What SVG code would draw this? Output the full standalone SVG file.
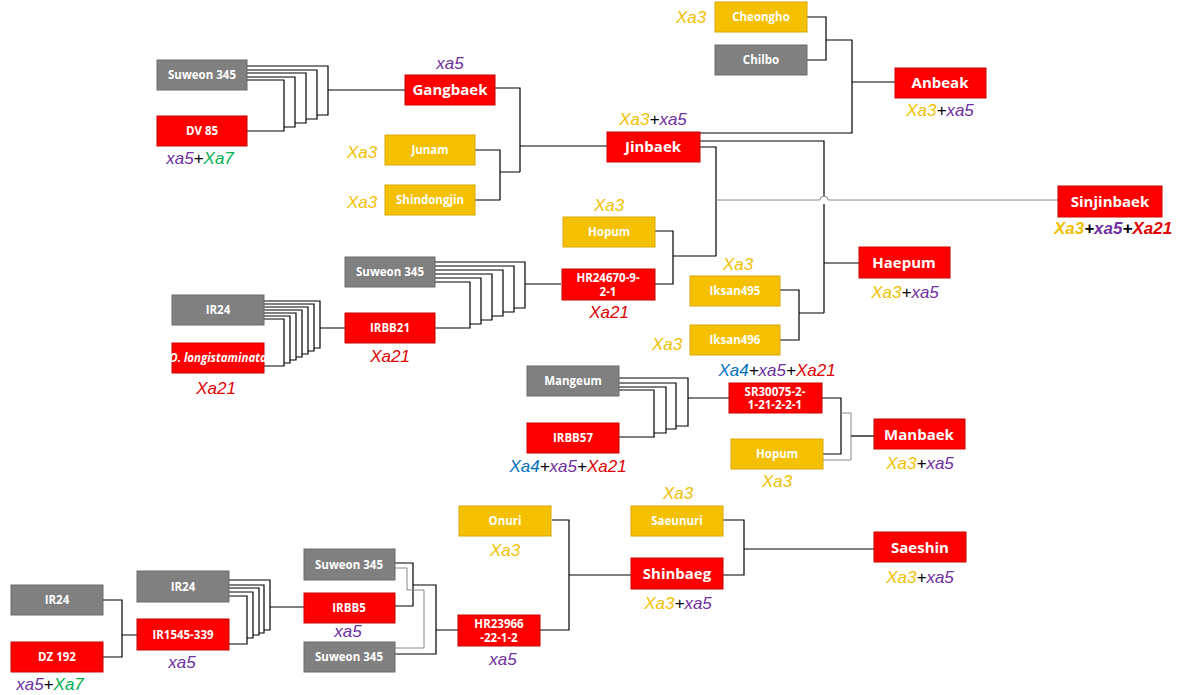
<svg xmlns="http://www.w3.org/2000/svg" width="1191" height="695" viewBox="0 0 1191 695">
<style>
.r{fill:#ff0000;stroke:#d00000;stroke-width:1}
.y{fill:#f5c000;stroke:#d9a800;stroke-width:1}
.g{fill:#808080;stroke:#6a6a6a;stroke-width:1}
.t{fill:#fff;font-family:"Open Sans","Liberation Sans",sans-serif;font-weight:bold;font-size:11.5px;text-anchor:middle}
.b{font-size:15px}
.l{font-family:"Liberation Sans",sans-serif;font-style:italic;font-size:17px;text-anchor:middle}
.c3{fill:#f0c000}.c5{fill:#7030a0}.c7{fill:#00b050}.c21{fill:#e00000}.c4{fill:#0070c0}.k{fill:#000}
.w{fill:none;stroke:#000;stroke-width:1.2}
.v{fill:none;stroke:#888;stroke-width:1}
</style>
<rect width="1191" height="695" fill="#fff"/>
<g id="connectors">
<path class="w" d="M247,66H328V115H317M247,70H317V119H306M247,73H306V123H295M247,77H295V127H284M247,80H284V131H247M328,90H405"/>
<path class="w" d="M495,88H520V172M475,150H500V200H475M500,172H520M520,146H607"/>
<path class="w" d="M807,17H826V60H807M826,40H852V133H700M852,82H895"/>
<path class="w" d="M700,141H824V196M824,204V313M824,263H859M780,290H799V340H780M799,313H824"/>
<path class="w" d="M700,147H716V256H673M655,231H673V284H655"/>
<path class="v" d="M716,200H820A4,4 0 0 1 828,200H1058"/>
<path class="w" d="M435,262H525V308H514M435,266H514V312H503M435,270H503V316H492M435,274H492V320H481M435,278H481V324H470M435,282H470V328H435M525,284H561"/>
<path class="w" d="M264,301H320V348H314M264,304H314V351H308M264,307H308V354H302M264,310H302V357H296M264,313H296V360H290M264,316H290V363H284M264,319H284V366H264M320,328H345"/>
<path class="w" d="M619,378H688V426H676M619,383H676V429H666M619,387H666V433H654M619,390H654V437H619M688,398H729"/>
<path class="w" d="M822,398H841V454H823"/>
<path class="v" d="M823,460H851V413H841M851,436H874"/>
<path class="w" d="M851,436H874M552,520H569V630H540M569,575H631M723,520H744V575H723M744,549H874"/>
<path class="w" d="M103,600H122V657H103M122,635H137"/>
<path class="w" d="M229,580H270V630H264M229,585H264V633H259M229,588H259V635H253M229,592H253V638H247M229,596H247V644H229M270,607H304"/>
<path class="w" d="M395,563H413V606H395M413,585H436V654H395M436,630H458"/>
<path class="v" d="M395,568H407V590H424V648H395"/>
</g>
<g id="n-suweon1"><rect class="g" x="157" y="60" width="90" height="30"/><text class="t" x="202" y="79">Suweon 345</text></g>
<g id="n-dv85"><rect class="r" x="157" y="116" width="90" height="30"/><text class="t" x="202" y="135">DV 85</text></g>
<text class="l" x="200" y="164"><tspan class="c5">xa5</tspan><tspan class="k">+</tspan><tspan class="c7">Xa7</tspan></text>
<g id="n-gangbaek"><rect class="r" x="405" y="75" width="90" height="30"/><text class="t b" x="450" y="95">Gangbaek</text></g>
<text class="l c5" x="450" y="69">xa5</text>
<g id="n-junam"><rect class="y" x="385" y="135" width="90" height="30"/><text class="t" x="430" y="154">Junam</text></g>
<text class="l c3" x="362" y="158">Xa3</text>
<g id="n-shindongjin"><rect class="y" x="385" y="185" width="90" height="30"/><text class="t" x="430" y="204">Shindongjin</text></g>
<text class="l c3" x="362" y="208">Xa3</text>
<g id="n-jinbaek"><rect class="r" x="607" y="132" width="93" height="30"/><text class="t b" x="653" y="152">Jinbaek</text></g>
<text class="l" x="653" y="125"><tspan class="c3">Xa3</tspan><tspan class="k">+</tspan><tspan class="c5">xa5</tspan></text>
<g id="n-cheongho"><rect class="y" x="715" y="2" width="92" height="30"/><text class="t" x="761" y="21">Cheongho</text></g>
<text class="l c3" x="691" y="23">Xa3</text>
<g id="n-chilbo"><rect class="g" x="715" y="45" width="92" height="30"/><text class="t" x="761" y="64">Chilbo</text></g>
<g id="n-anbeak"><rect class="r" x="895" y="68" width="91" height="30"/><text class="t b" x="940" y="88">Anbeak</text></g>
<text class="l" x="940" y="116"><tspan class="c3">Xa3</tspan><tspan class="k">+</tspan><tspan class="c5">xa5</tspan></text>
<g id="n-sinjinbaek"><rect class="r" x="1058" y="186" width="104" height="31"/><text class="t b" x="1110" y="207">Sinjinbaek</text></g>
<text class="l" x="1113" y="234" font-weight="bold"><tspan class="c3">Xa3</tspan><tspan class="k">+</tspan><tspan class="c5">xa5</tspan><tspan class="k">+</tspan><tspan class="c21">Xa21</tspan></text>
<g id="n-hopum1"><rect class="y" x="563" y="217" width="92" height="30"/><text class="t" x="609" y="236">Hopum</text></g>
<text class="l c3" x="609" y="211">Xa3</text>
<g id="n-hr24670"><rect class="r" x="562" y="269" width="93" height="31"/><text class="t" x="608" y="282">HR24670-9-</text><text class="t" x="608" y="296">2-1</text></g>
<text class="l c21" x="609" y="318">Xa21</text>
<g id="n-suweon2"><rect class="g" x="345" y="257" width="90" height="30"/><text class="t" x="390" y="276">Suweon 345</text></g>
<g id="n-irbb21"><rect class="r" x="345" y="313" width="90" height="30"/><text class="t" x="390" y="332">IRBB21</text></g>
<text class="l c21" x="390" y="362">Xa21</text>
<g id="n-ir24a"><rect class="g" x="172" y="295" width="92" height="30"/><text class="t" x="218" y="314">IR24</text></g>
<g id="n-olong"><rect class="r" x="172" y="343" width="92" height="30"/><text class="t" x="218" y="362" font-style="italic" font-size="10" font-weight="normal">O. longistaminata</text></g>
<text class="l c21" x="216" y="394">Xa21</text>
<g id="n-iksan495"><rect class="y" x="690" y="276" width="90" height="30"/><text class="t" x="735" y="295">Iksan495</text></g>
<text class="l c3" x="738" y="270">Xa3</text>
<g id="n-iksan496"><rect class="y" x="690" y="325" width="90" height="30"/><text class="t" x="735" y="344">Iksan496</text></g>
<text class="l c3" x="667" y="350">Xa3</text>
<g id="n-haepum"><rect class="r" x="859" y="247" width="91" height="31"/><text class="t b" x="904" y="268">Haepum</text></g>
<text class="l" x="905" y="298"><tspan class="c3">Xa3</tspan><tspan class="k">+</tspan><tspan class="c5">xa5</tspan></text>
<g id="n-mangeum"><rect class="g" x="527" y="366" width="92" height="30"/><text class="t" x="573" y="385">Mangeum</text></g>
<g id="n-irbb57"><rect class="r" x="527" y="423" width="92" height="30"/><text class="t" x="573" y="442">IRBB57</text></g>
<text class="l" x="568" y="472"><tspan class="c4">Xa4</tspan><tspan class="k">+</tspan><tspan class="c5">xa5</tspan><tspan class="k">+</tspan><tspan class="c21">Xa21</tspan></text>
<g id="n-sr30075"><rect class="r" x="729" y="383" width="93" height="30"/><text class="t" x="775" y="396">SR30075-2-</text><text class="t" x="775" y="409">1-21-2-2-1</text></g>
<text class="l" x="777" y="376"><tspan class="c4">Xa4</tspan><tspan class="k">+</tspan><tspan class="c5">xa5</tspan><tspan class="k">+</tspan><tspan class="c21">Xa21</tspan></text>
<g id="n-hopum2"><rect class="y" x="731" y="439" width="92" height="30"/><text class="t" x="777" y="458">Hopum</text></g>
<text class="l c3" x="777" y="487">Xa3</text>
<g id="n-manbaek"><rect class="r" x="874" y="419" width="91" height="30"/><text class="t b" x="919" y="440">Manbaek</text></g>
<text class="l" x="920" y="469"><tspan class="c3">Xa3</tspan><tspan class="k">+</tspan><tspan class="c5">xa5</tspan></text>
<g id="n-onuri"><rect class="y" x="459" y="506" width="92" height="30"/><text class="t" x="505" y="525">Onuri</text></g>
<text class="l c3" x="505" y="556">Xa3</text>
<g id="n-saeunuri"><rect class="y" x="631" y="506" width="92" height="30"/><text class="t" x="677" y="525">Saeunuri</text></g>
<text class="l c3" x="678" y="499">Xa3</text>
<g id="n-shinbaeg"><rect class="r" x="631" y="558" width="92" height="31"/><text class="t b" x="677" y="579">Shinbaeg</text></g>
<text class="l" x="678" y="609"><tspan class="c3">Xa3</tspan><tspan class="k">+</tspan><tspan class="c5">xa5</tspan></text>
<g id="n-saeshin"><rect class="r" x="874" y="532" width="92" height="30"/><text class="t b" x="920" y="553">Saeshin</text></g>
<text class="l" x="920" y="583"><tspan class="c3">Xa3</tspan><tspan class="k">+</tspan><tspan class="c5">xa5</tspan></text>
<g id="n-ir24b"><rect class="g" x="11" y="585" width="92" height="30"/><text class="t" x="57" y="604">IR24</text></g>
<g id="n-dz192"><rect class="r" x="11" y="642" width="92" height="30"/><text class="t" x="57" y="661">DZ 192</text></g>
<text class="l" x="50" y="690"><tspan class="c5">xa5</tspan><tspan class="k">+</tspan><tspan class="c7">Xa7</tspan></text>
<g id="n-ir24c"><rect class="g" x="137" y="571" width="92" height="31"/><text class="t" x="183" y="591">IR24</text></g>
<g id="n-ir1545"><rect class="r" x="137" y="619" width="92" height="31"/><text class="t" x="183" y="639">IR1545-339</text></g>
<text class="l c5" x="182" y="668">xa5</text>
<g id="n-suweon3"><rect class="g" x="304" y="549" width="91" height="31"/><text class="t" x="349" y="569">Suweon 345</text></g>
<g id="n-irbb5"><rect class="r" x="304" y="593" width="91" height="30"/><text class="t" x="349" y="612">IRBB5</text></g>
<text class="l c5" x="348" y="637">xa5</text>
<g id="n-suweon4"><rect class="g" x="304" y="642" width="91" height="30"/><text class="t" x="349" y="661">Suweon 345</text></g>
<g id="n-hr23966"><rect class="r" x="458" y="615" width="82" height="31"/><text class="t" x="499" y="628">HR23966</text><text class="t" x="499" y="642">-22-1-2</text></g>
<text class="l c5" x="503" y="665">xa5</text>
</svg>
